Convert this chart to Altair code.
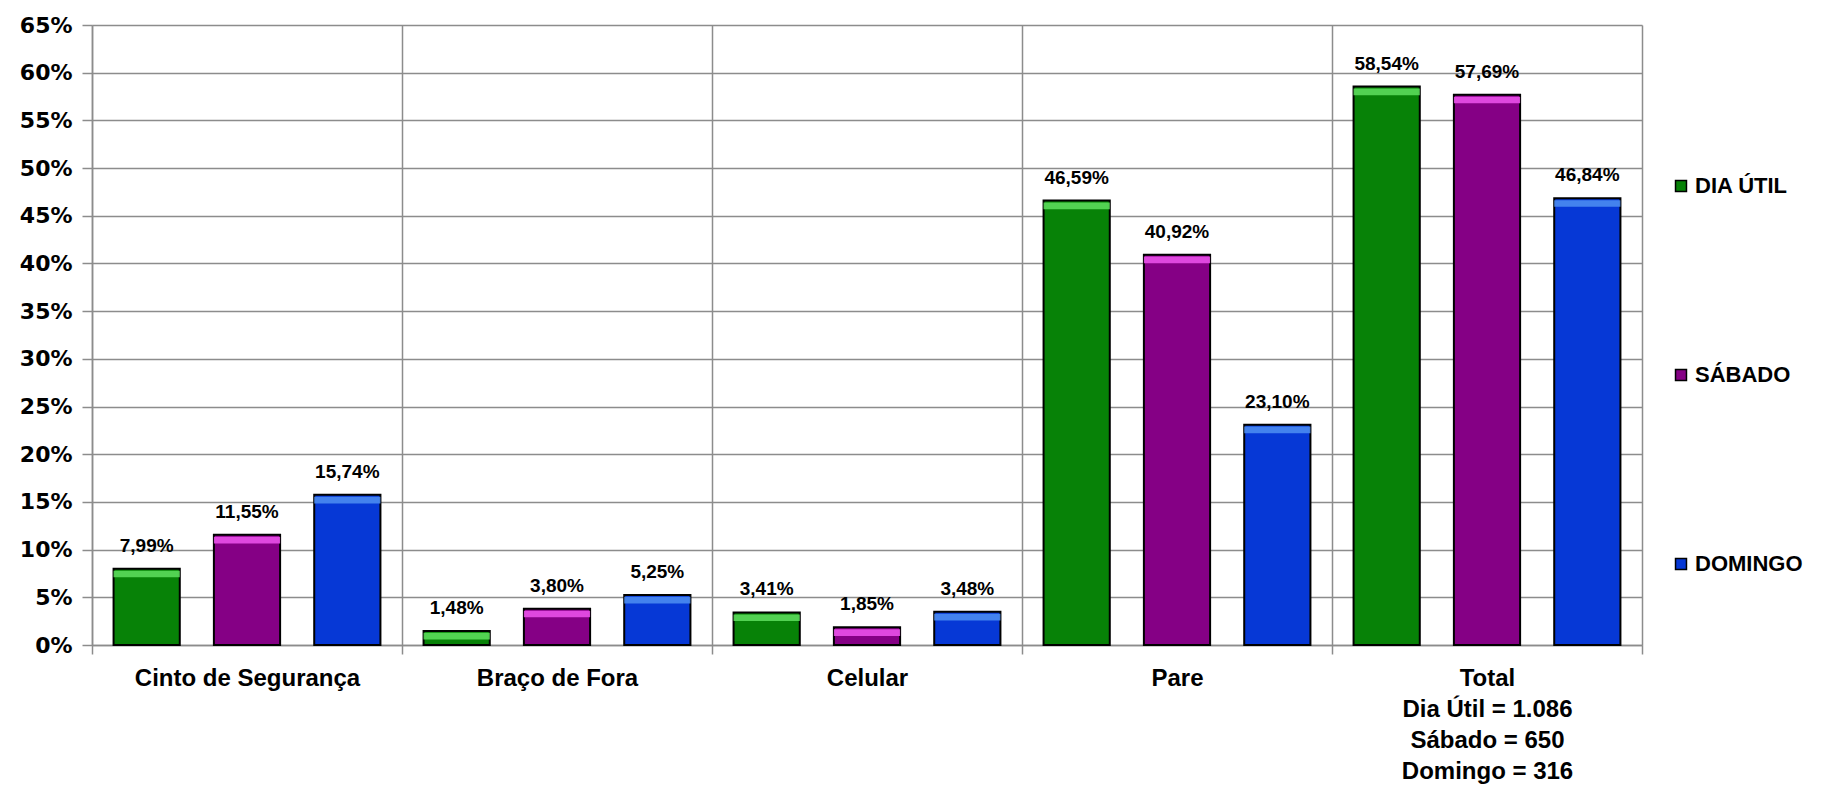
import altair as alt
import pandas as pd

categories = ["Cinto de Segurança", "Braço de Fora", "Celular", "Pare", "Total"]
series = ["DIA ÚTIL", "SÁBADO", "DOMINGO"]
dia_util = [7.99, 1.48, 3.41, 46.59, 58.54]
sabado = [11.55, 3.80, 1.85, 40.92, 57.69]
domingo = [15.74, 5.25, 3.48, 23.10, 46.84]
total_notes = ["Dia Útil = 1.086", "Sábado = 650", "Domingo = 316"]
y_ticks = list(range(0, 66, 5))

colors = ["#078207", "#850085", "#0638d6"]
highlights = ["#5fe05f", "#ee55ee", "#4f8ff2"]

rows = []
for name, vals, hl in zip(series, [dia_util, sabado, domingo], highlights):
    for c, v in zip(categories, vals):
        rows.append({"cat": c, "serie": name, "value": v, "hl": hl})
df = pd.DataFrame(rows)

label_font = "Liberation Sans"

total_js = "['Total'," + ",".join("'" + s + "'" for s in total_notes) + "]"
x_enc = alt.X(
    "cat:N",
    sort=categories,
    scale=alt.Scale(paddingInner=0, paddingOuter=0),
    axis=alt.Axis(
        title=None,
        tickBand="extent",
        grid=True,
        gridColor="#8c8c8c",
        gridWidth=1.5,
        domainColor="#8c8c8c",
        domainWidth=1.5,
        tickColor="#8c8c8c",
        tickWidth=1.5,
        tickSize=9,
        labelAngle=0,
        labelFont=label_font,
        labelFontSize=24,
        labelFontWeight="bold",
        labelColor="black",
        labelPadding=12,
        labelLimit=400,
        labelLineHeight=31,
        labelBaseline="top",
        labelExpr="datum.value == 'Total' ? " + total_js + " : datum.value",
    ),
)
xoff = alt.XOffset(
    "serie:N", sort=series,
    scale=alt.Scale(paddingInner=0.34, paddingOuter=0.215),
)
y_enc = alt.Y(
    "value:Q",
    scale=alt.Scale(domain=[0, 65], nice=False),
    axis=alt.Axis(
        title=None,
        values=y_ticks,
        labelExpr="datum.value + '%'",
        grid=True,
        gridColor="#8c8c8c",
        gridWidth=1.5,
        domainColor="#8c8c8c",
        domainWidth=1.5,
        tickColor="#8c8c8c",
        tickWidth=1.5,
        tickSize=10,
        labelPadding=10,
        labelFont="DejaVu Sans",
        labelFontSize=22,
        labelFontWeight="bold",
        labelColor="black",
    ),
)

base = alt.Chart(df)

bars = base.mark_bar(stroke="black", strokeWidth=2).encode(
    x=x_enc,
    xOffset=xoff,
    y=y_enc,
    color=alt.Color(
        "serie:N", sort=series,
        scale=alt.Scale(domain=series, range=colors),
        legend=alt.Legend(
            title=None, orient="none", legendX=1578, legendY=150,
            rowPadding=167, symbolType="square", symbolSize=120,
            symbolStrokeColor="black", symbolStrokeWidth=1.5,
            labelFont=label_font, labelFontSize=22, labelFontWeight="bold",
            labelColor="black", labelOffset=3,
        ),
    ),
)

hl = base.transform_calculate(
    top="datum.value - 0.2",
    bot="max(datum.value - 0.9, 0.1)",
).mark_bar(opacity=0.85).encode(
    x=alt.X("cat:N", sort=categories),
    xOffset=alt.XOffset("serie:N", sort=series),
    y="top:Q",
    y2="bot:Q",
    fill=alt.Fill("hl:N", scale=None, legend=None),
)

labels = base.transform_calculate(
    lab="replace(format(datum.value, '.2f'), '.', ',') + '%'"
).mark_text(
    baseline="bottom", dy=-13, font=label_font, fontSize=19,
    fontWeight="bold", color="black",
).encode(
    x=alt.X("cat:N", sort=categories),
    xOffset=alt.XOffset("serie:N", sort=series),
    y="value:Q",
    text="lab:N",
)

chart = alt.layer(bars, hl, labels).properties(
    width=1550, height=620,
    autosize=alt.AutoSizeParams(type="none"),
    padding={"left": 84, "top": 17, "right": 172, "bottom": 142},
).configure_view(stroke=None)

chart.save("out.html", embed_options={"renderer": "svg", "actions": False})
